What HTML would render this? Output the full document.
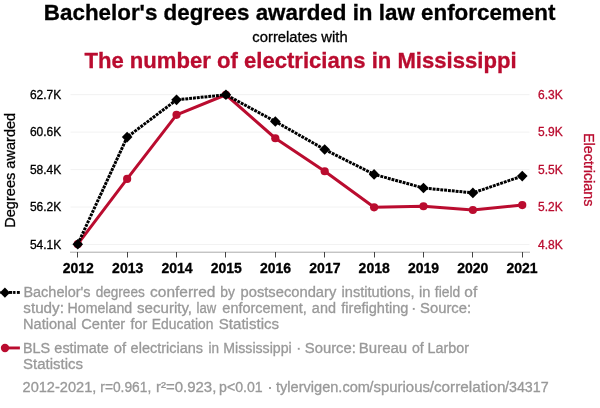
<!DOCTYPE html>
<html><head><meta charset="utf-8">
<style>
html,body{margin:0;padding:0;background:#fff;}
body{width:600px;height:408px;overflow:hidden;font-family:"Liberation Sans",sans-serif;}
svg{display:block;will-change:transform}
text{font-family:"Liberation Sans",sans-serif;}
</style></head><body>
<svg width="600" height="408" viewBox="0 0 600 408">
<rect width="600" height="408" fill="#fff"/>
<text id="t1" x="299.6" y="20.0" font-size="22" font-weight="bold" fill="#000" stroke="#000" stroke-width="0.3" text-anchor="middle" textLength="511.50" lengthAdjust="spacingAndGlyphs">Bachelor's degrees awarded in law enforcement</text>
<text id="t2" x="300" y="41.6" font-size="14" font-weight="normal" fill="#000" stroke="#000" stroke-width="0.3" text-anchor="middle" textLength="95.28" lengthAdjust="spacingAndGlyphs">correlates with</text>
<text id="t3" x="300.5" y="68.0" font-size="22" font-weight="bold" fill="#ba0c2f" stroke="#ba0c2f" stroke-width="0.3" text-anchor="middle" textLength="432.10" lengthAdjust="spacingAndGlyphs">The number of electricians in Mississippi</text>
<g stroke="#f2f2f2" stroke-width="1">
<line x1="70.5" x2="529.5" y1="94.65" y2="94.65"/>
<line x1="70.5" x2="529.5" y1="132.12" y2="132.12"/>
<line x1="70.5" x2="529.5" y1="169.59" y2="169.59"/>
<line x1="70.5" x2="529.5" y1="207.06" y2="207.06"/>
<line x1="70.5" x2="529.5" y1="244.53" y2="244.53"/>
</g>
<line x1="70" x2="530" y1="252.2" y2="252.2" stroke="#aaa" stroke-width="1"/>
<g stroke="#444" stroke-width="1">
<line x1="77.5" x2="77.5" y1="252" y2="257.5"/>
<line x1="127.5" x2="127.5" y1="252" y2="257.5"/>
<line x1="176.5" x2="176.5" y1="252" y2="257.5"/>
<line x1="225.5" x2="225.5" y1="252" y2="257.5"/>
<line x1="275.5" x2="275.5" y1="252" y2="257.5"/>
<line x1="324.5" x2="324.5" y1="252" y2="257.5"/>
<line x1="374.5" x2="374.5" y1="252" y2="257.5"/>
<line x1="423.5" x2="423.5" y1="252" y2="257.5"/>
<line x1="472.5" x2="472.5" y1="252" y2="257.5"/>
<line x1="522.5" x2="522.5" y1="252" y2="257.5"/>
</g>
<text id="x0" x="78.3" y="273" font-size="14" font-weight="bold" fill="#000" stroke="#000" stroke-width="0.3" text-anchor="middle">2012</text>
<text id="x1" x="127.7" y="273" font-size="14" font-weight="bold" fill="#000" stroke="#000" stroke-width="0.3" text-anchor="middle">2013</text>
<text id="x2" x="177.0" y="273" font-size="14" font-weight="bold" fill="#000" stroke="#000" stroke-width="0.3" text-anchor="middle">2014</text>
<text id="x3" x="226.3" y="273" font-size="14" font-weight="bold" fill="#000" stroke="#000" stroke-width="0.3" text-anchor="middle">2015</text>
<text id="x4" x="275.6" y="273" font-size="14" font-weight="bold" fill="#000" stroke="#000" stroke-width="0.3" text-anchor="middle">2016</text>
<text id="x5" x="324.9" y="273" font-size="14" font-weight="bold" fill="#000" stroke="#000" stroke-width="0.3" text-anchor="middle">2017</text>
<text id="x6" x="374.2" y="273" font-size="14" font-weight="bold" fill="#000" stroke="#000" stroke-width="0.3" text-anchor="middle">2018</text>
<text id="x7" x="423.5" y="273" font-size="14" font-weight="bold" fill="#000" stroke="#000" stroke-width="0.3" text-anchor="middle">2019</text>
<text id="x8" x="472.8" y="273" font-size="14" font-weight="bold" fill="#000" stroke="#000" stroke-width="0.3" text-anchor="middle">2020</text>
<text id="x9" x="522.1" y="273" font-size="14" font-weight="bold" fill="#000" stroke="#000" stroke-width="0.3" text-anchor="middle">2021</text>
<text id="l0" x="61.3" y="98.75" font-size="12" font-weight="normal" fill="#000" stroke="#000" stroke-width="0.3" text-anchor="end">62.7K</text>
<text id="r0" x="538.1" y="98.75" font-size="12" font-weight="normal" fill="#ba0c2f" stroke="#ba0c2f" stroke-width="0.3" text-anchor="start">6.3K</text>
<text id="l1" x="61.3" y="136.22" font-size="12" font-weight="normal" fill="#000" stroke="#000" stroke-width="0.3" text-anchor="end">60.6K</text>
<text id="r1" x="538.1" y="136.22" font-size="12" font-weight="normal" fill="#ba0c2f" stroke="#ba0c2f" stroke-width="0.3" text-anchor="start">5.9K</text>
<text id="l2" x="61.3" y="173.69" font-size="12" font-weight="normal" fill="#000" stroke="#000" stroke-width="0.3" text-anchor="end">58.4K</text>
<text id="r2" x="538.1" y="173.69" font-size="12" font-weight="normal" fill="#ba0c2f" stroke="#ba0c2f" stroke-width="0.3" text-anchor="start">5.5K</text>
<text id="l3" x="61.3" y="211.16" font-size="12" font-weight="normal" fill="#000" stroke="#000" stroke-width="0.3" text-anchor="end">56.2K</text>
<text id="r3" x="538.1" y="211.16" font-size="12" font-weight="normal" fill="#ba0c2f" stroke="#ba0c2f" stroke-width="0.3" text-anchor="start">5.2K</text>
<text id="l4" x="61.3" y="248.63" font-size="12" font-weight="normal" fill="#000" stroke="#000" stroke-width="0.3" text-anchor="end">54.1K</text>
<text id="r4" x="538.1" y="248.63" font-size="12" font-weight="normal" fill="#ba0c2f" stroke="#ba0c2f" stroke-width="0.3" text-anchor="start">4.8K</text>
<text id="yl" x="0" y="0" font-size="14" font-weight="normal" fill="#000" stroke="#000" stroke-width="0.3" text-anchor="middle" textLength="114.98" lengthAdjust="spacingAndGlyphs" transform="translate(15.2,170.3) rotate(-90)">Degrees awarded</text>
<text id="yr" x="0" y="0" font-size="14" font-weight="normal" fill="#ba0c2f" stroke="#ba0c2f" stroke-width="0.3" text-anchor="middle" textLength="73.50" lengthAdjust="spacingAndGlyphs" transform="translate(583.6,169.7) rotate(90)">Electricians</text>
<polyline fill="none" stroke="#ba0c2f" stroke-width="3" stroke-linejoin="round" points="77.75,244.20 127.14,178.90 176.53,114.85 225.92,94.75 275.31,138.25 324.70,171.25 374.09,207.30 423.48,206.25 472.87,210.00 522.26,205.10"/>
<g fill="#ba0c2f"><circle cx="77.75" cy="244.20" r="4.1"/><circle cx="127.14" cy="178.90" r="4.1"/><circle cx="176.53" cy="114.85" r="4.1"/><circle cx="225.92" cy="94.75" r="4.1"/><circle cx="275.31" cy="138.25" r="4.1"/><circle cx="324.70" cy="171.25" r="4.1"/><circle cx="374.09" cy="207.30" r="4.1"/><circle cx="423.48" cy="206.25" r="4.1"/><circle cx="472.87" cy="210.00" r="4.1"/><circle cx="522.26" cy="205.10" r="4.1"/></g>
<polyline fill="none" stroke="#000" stroke-width="3" stroke-dasharray="2.9,0.95" points="77.75,244.20 127.14,137.10 176.53,99.85 225.92,94.75 275.31,121.50 324.70,149.50 374.09,174.40 423.48,188.00 472.87,192.90 522.26,176.10"/>
<g fill="#000"><path d="M77.75,238.90 l5.3,5.3 -5.3,5.3 -5.3,-5.3z"/><path d="M127.14,131.80 l5.3,5.3 -5.3,5.3 -5.3,-5.3z"/><path d="M176.53,94.55 l5.3,5.3 -5.3,5.3 -5.3,-5.3z"/><path d="M225.92,89.45 l5.3,5.3 -5.3,5.3 -5.3,-5.3z"/><path d="M275.31,116.20 l5.3,5.3 -5.3,5.3 -5.3,-5.3z"/><path d="M324.70,144.20 l5.3,5.3 -5.3,5.3 -5.3,-5.3z"/><path d="M374.09,169.10 l5.3,5.3 -5.3,5.3 -5.3,-5.3z"/><path d="M423.48,182.70 l5.3,5.3 -5.3,5.3 -5.3,-5.3z"/><path d="M472.87,187.60 l5.3,5.3 -5.3,5.3 -5.3,-5.3z"/><path d="M522.26,170.80 l5.3,5.3 -5.3,5.3 -5.3,-5.3z"/></g>
<g fill="#000"><rect x="0" y="291" width="0.6" height="2.9"/><rect x="9" y="291" width="3.2" height="2.9"/><rect x="13.1" y="291" width="2.4" height="2.9"/><rect x="16.9" y="291" width="2.9" height="2.9"/></g>
<g fill="#000"><path d="M4.90,287.55 l5.1,5.1 -5.1,5.1 -5.1,-5.1z"/></g>
<line x1="5" x2="19.9" y1="347.95" y2="347.95" stroke="#ba0c2f" stroke-width="2.9"/>
<circle cx="5.0" cy="348.0" r="4.15" fill="#ba0c2f"/>
<g font-size="14" fill="#999" stroke="#999" stroke-width="0.3">
<text x="23.41" y="296.8" textLength="67.11" lengthAdjust="spacingAndGlyphs">Bachelor's</text>
<text x="95.68" y="296.8" textLength="49.06" lengthAdjust="spacingAndGlyphs">degrees</text>
<text x="150.09" y="296.8" textLength="65.41" lengthAdjust="spacingAndGlyphs">conferred</text>
<text x="220.35" y="296.8" textLength="14.67" lengthAdjust="spacingAndGlyphs">by</text>
<text x="240.55" y="296.8" textLength="95.73" lengthAdjust="spacingAndGlyphs">postsecondary</text>
<text x="341.52" y="296.8" textLength="73.04" lengthAdjust="spacingAndGlyphs">institutions,</text>
<text x="419.02" y="296.8" textLength="11.44" lengthAdjust="spacingAndGlyphs">in</text>
<text x="434.80" y="296.8" textLength="25.34" lengthAdjust="spacingAndGlyphs">field</text>
<text x="464.35" y="296.8" textLength="12.88" lengthAdjust="spacingAndGlyphs">of</text>
<text x="23.33" y="312.7" textLength="40.56" lengthAdjust="spacingAndGlyphs">study:</text>
<text x="67.59" y="312.7" textLength="64.58" lengthAdjust="spacingAndGlyphs">Homeland</text>
<text x="137.09" y="312.7" textLength="54.99" lengthAdjust="spacingAndGlyphs">security,</text>
<text x="196.62" y="312.7" textLength="19.60" lengthAdjust="spacingAndGlyphs">law</text>
<text x="222.39" y="312.7" textLength="84.41" lengthAdjust="spacingAndGlyphs">enforcement,</text>
<text x="311.89" y="312.7" textLength="24.04" lengthAdjust="spacingAndGlyphs">and</text>
<text x="341.29" y="312.7" textLength="67.14" lengthAdjust="spacingAndGlyphs">firefighting</text>
<rect x="412.80" y="307.95" width="1.9" height="1.9" stroke="none"/>
<text x="420.08" y="312.7" textLength="51.02" lengthAdjust="spacingAndGlyphs">Source:</text>
<text x="23.06" y="328.6" textLength="53.42" lengthAdjust="spacingAndGlyphs">National</text>
<text x="81.26" y="328.6" textLength="43.99" lengthAdjust="spacingAndGlyphs">Center</text>
<text x="130.55" y="328.6" textLength="16.69" lengthAdjust="spacingAndGlyphs">for</text>
<text x="151.87" y="328.6" textLength="61.53" lengthAdjust="spacingAndGlyphs">Education</text>
<text x="218.82" y="328.6" textLength="60.23" lengthAdjust="spacingAndGlyphs">Statistics</text>
<text x="22.97" y="352.6" textLength="27.19" lengthAdjust="spacingAndGlyphs">BLS</text>
<text x="54.39" y="352.6" textLength="54.50" lengthAdjust="spacingAndGlyphs">estimate</text>
<text x="113.88" y="352.6" textLength="12.35" lengthAdjust="spacingAndGlyphs">of</text>
<text x="130.64" y="352.6" textLength="72.39" lengthAdjust="spacingAndGlyphs">electricians</text>
<text x="208.59" y="352.6" textLength="10.53" lengthAdjust="spacingAndGlyphs">in</text>
<text x="223.34" y="352.6" textLength="68.36" lengthAdjust="spacingAndGlyphs">Mississippi</text>
<rect x="297.80" y="347.85" width="1.9" height="1.9" stroke="none"/>
<text x="304.83" y="352.6" textLength="51.02" lengthAdjust="spacingAndGlyphs">Source:</text>
<text x="358.77" y="352.6" textLength="48.48" lengthAdjust="spacingAndGlyphs">Bureau</text>
<text x="411.90" y="352.6" textLength="11.82" lengthAdjust="spacingAndGlyphs">of</text>
<text x="427.57" y="352.6" textLength="41.41" lengthAdjust="spacingAndGlyphs">Larbor</text>
<text x="23.07" y="368.6" textLength="59.97" lengthAdjust="spacingAndGlyphs">Statistics</text>
<text x="22.52" y="391.8" textLength="73.79" lengthAdjust="spacingAndGlyphs">2012-2021,</text>
<text x="100.34" y="391.8" textLength="50.90" lengthAdjust="spacingAndGlyphs">r=0.961,</text>
<text x="156.01" y="391.8" textLength="60.34" lengthAdjust="spacingAndGlyphs">r²=0.923,</text>
<text x="219.09" y="391.8" textLength="43.60" lengthAdjust="spacingAndGlyphs">p&lt;0.01</text>
<rect x="269.05" y="387.05" width="1.9" height="1.9" stroke="none"/>
<text x="276.03" y="391.8" textLength="93.93" lengthAdjust="spacingAndGlyphs">tylervigen.com</text>
<text x="369.30" y="391.8" textLength="60.64" lengthAdjust="spacingAndGlyphs">/spurious</text>
<text x="429.70" y="391.8" textLength="75.80" lengthAdjust="spacingAndGlyphs">/correlation</text>
<text x="505.00" y="391.8" textLength="43.72" lengthAdjust="spacingAndGlyphs">/34317</text>
</g>
</svg>
</body></html>
